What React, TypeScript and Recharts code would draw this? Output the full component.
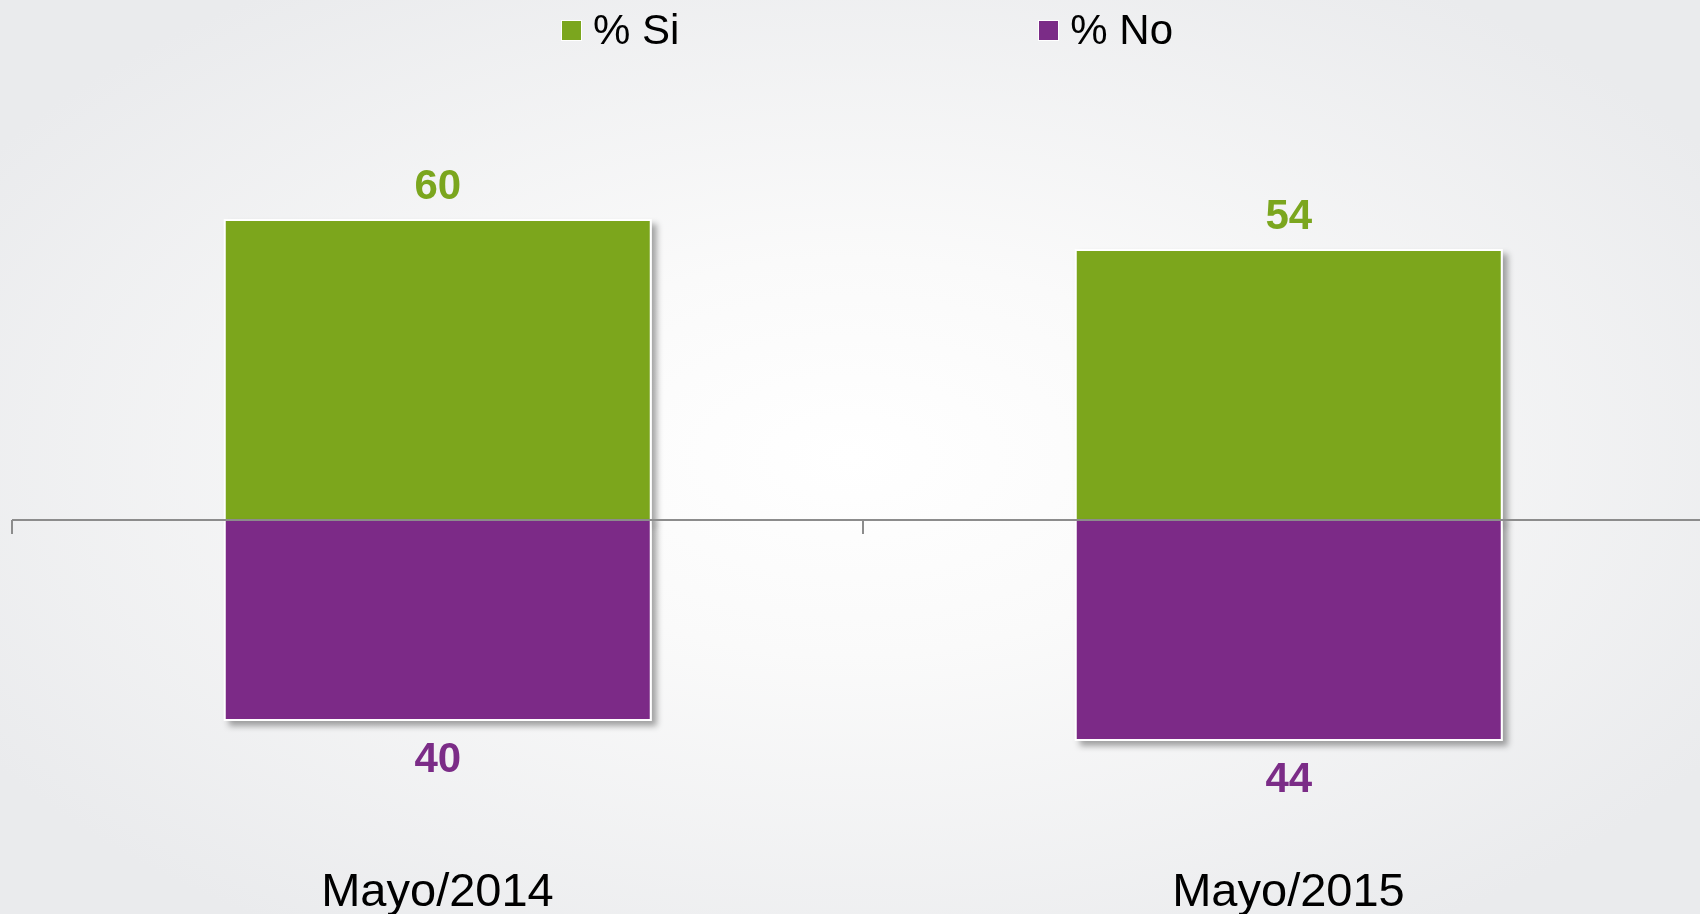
import React from "react";
import { Bar, BarChart, LabelList, Legend, ReferenceLine, XAxis, YAxis } from "recharts";

const periods = ["Mayo/2014", "Mayo/2015"];
const siPct = [60, 54];
const noPct = [40, 44];
const seriesNames = ["% Si", "% No"];

const GREEN = "#7BA61E";
const PURPLE = "#7B2C87";
const FONT = '"Liberation Sans", Arial, Helvetica, sans-serif';

// "No" goes below the zero line, so it is negated for the chart
const data = periods.map((p, i) => ({ period: p, si: siPct[i], no: -noPct[i] }));

const box = (p: any) => {
  const v = p.viewBox || {};
  const x = v.x ?? p.x;
  const y = v.y ?? p.y;
  const w = v.width ?? p.width;
  const h = v.height ?? p.height;
  return { x, w, top: Math.min(y, y + h), bottom: Math.max(y, y + h) };
};

const SiLabel = (props: any) => {
  const b = box(props);
  return (
    <text x={b.x + b.w / 2} y={b.top - 21} textAnchor="middle" fill={GREEN}
      fontSize={42} fontWeight="bold" fontFamily={FONT}>
      {Math.abs(props.value)}
    </text>
  );
};

const NoLabel = (props: any) => {
  const b = box(props);
  return (
    <text x={b.x + b.w / 2} y={b.bottom + 52} textAnchor="middle" fill={PURPLE}
      fontSize={42} fontWeight="bold" fontFamily={FONT}>
      {Math.abs(props.value)}
    </text>
  );
};

const PeriodTick = (props: any) => {
  const { x, y, payload } = props;
  return (
    <text x={x} y={y} dy={28} textAnchor="middle" fill="#000" fontSize={47} fontFamily={FONT}>
      {payload.value}
    </text>
  );
};

// zero line with tick marks on the category boundaries
const ZeroAxis = (props: any) => {
  const { x1, x2, y1 } = props;
  const n = periods.length;
  const step = (x2 - x1) / n;
  return (
    <g>
      <line x1={x1} x2={x2} y1={y1} y2={y1} stroke="#8c8c8c" strokeWidth={2} />
      {Array.from({ length: n + 1 }, (_, i) => (
        <line key={i} x1={x1 + i * step} x2={x1 + i * step} y1={y1} y2={y1 + 14}
          stroke="#8c8c8c" strokeWidth={2} />
      ))}
    </g>
  );
};

const LegendBox = () => (
  <div style={{ display: "flex", justifyContent: "center", gap: 359, paddingLeft: 34, fontFamily: FONT }}>
    {seriesNames.map((name, i) => (
      <div key={name} style={{ display: "flex", alignItems: "center", height: 60 }}>
        <span style={{ width: 19, height: 19, background: i === 0 ? GREEN : PURPLE,
          border: "1px solid #fff", marginRight: 11, display: "inline-block" }} />
        <span style={{ fontSize: 42, color: "#000" }}>{name}</span>
      </div>
    ))}
  </div>
);

export default function App() {
  return (
    <div style={{
      position: "fixed", left: 0, top: 0, width: 1700, height: 914, overflow: "hidden",
      background: "radial-gradient(ellipse 60% 62% at 50% 50%, #ffffff 0%, #fafafa 35%, #eaebed 100%)",
    }}>
      <BarChart width={1700} height={914} data={data} stackOffset="sign" barCategoryGap="25%"
        margin={{ top: 20, right: -14, left: 12, bottom: 0 }}>
        <defs>
          <filter id="barShadow" x="-10%" y="-10%" width="130%" height="130%">
            <feDropShadow dx="5" dy="5" stdDeviation="3" floodColor="#000" floodOpacity="0.35" />
          </filter>
        </defs>
        <XAxis dataKey="period" axisLine={false} tickLine={false} height={44} tick={<PeriodTick />} interval={0} />
        <YAxis hide width={0} domain={[-70, 100]} />
        <Legend verticalAlign="middle" align="center" content={<LegendBox />}
          wrapperStyle={{ top: 0, left: 0, width: 1700 }} />
        <Bar dataKey="si" stackId="a" fill={GREEN} stroke="#fff" strokeWidth={2}
          filter="url(#barShadow)" isAnimationActive={false}>
          <LabelList dataKey="si" content={<SiLabel />} />
        </Bar>
        <Bar dataKey="no" stackId="a" fill={PURPLE} stroke="#fff" strokeWidth={2}
          filter="url(#barShadow)" isAnimationActive={false}>
          <LabelList dataKey="no" content={<NoLabel />} />
        </Bar>
        <ReferenceLine y={0} shape={<ZeroAxis />} />
      </BarChart>
    </div>
  );
}
